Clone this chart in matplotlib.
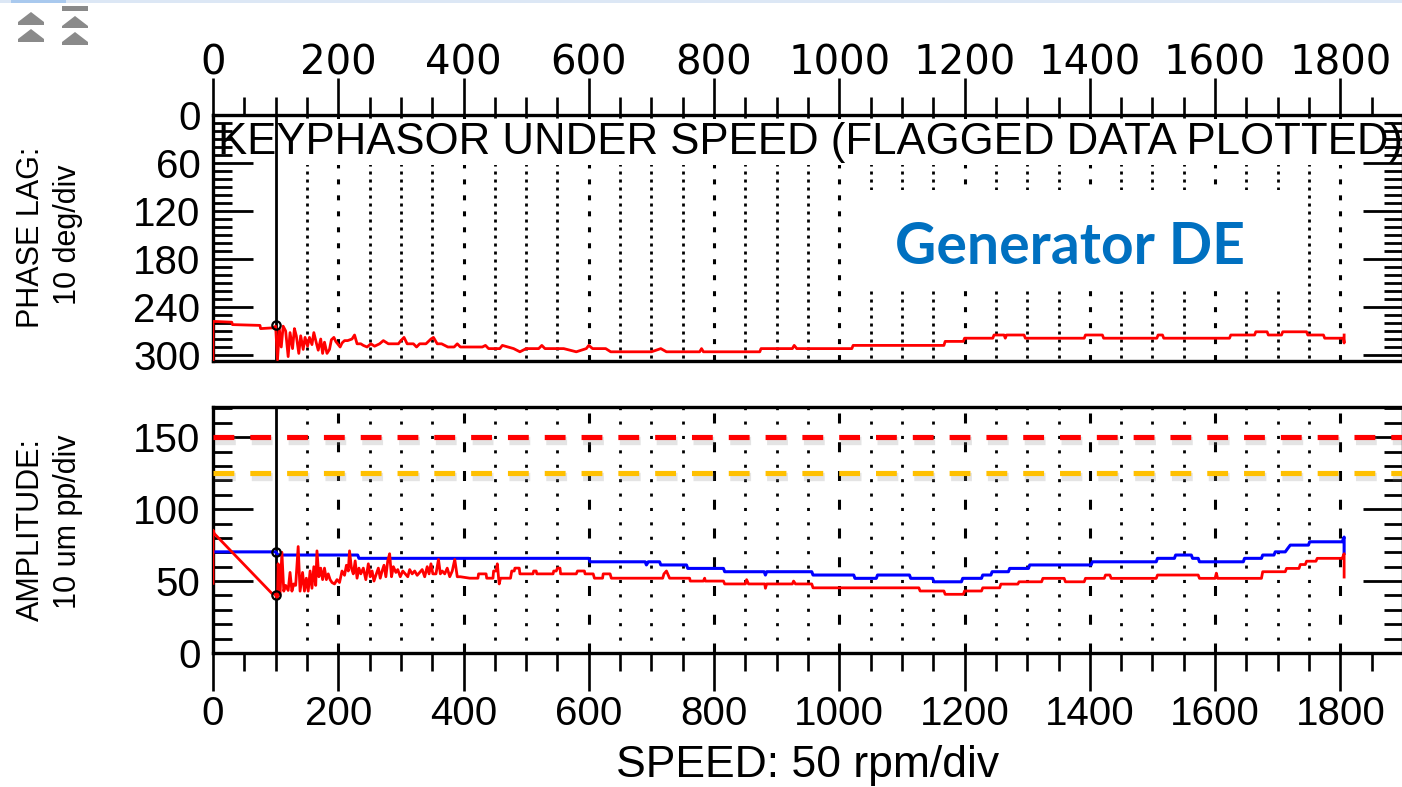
import matplotlib
matplotlib.use('Agg')
import matplotlib.pyplot as plt
import matplotlib.patheffects as pe
from matplotlib.patches import Rectangle, Polygon
from matplotlib.transforms import Affine2D
from matplotlib import font_manager as fm
import numpy as np

plt.rcParams['lines.scale_dashes'] = False

# ---------------- data ----------------
speed_phase = [0, 0, 30, 31, 75, 76, 97,
               100, 103, 106, 109, 112, 116, 120, 123, 127, 130, 133, 137, 140, 144, 147, 151, 154, 158,
               161, 165, 168, 172, 175, 178, 182, 186, 189, 193, 196, 200, 203, 206, 210, 215, 222, 226,
               230, 236, 240, 246, 252, 258, 266, 272, 280, 296, 300, 305, 310, 320, 325, 330, 340, 348,
               352, 358, 365, 375, 385, 390, 395, 430, 435, 440, 458, 462, 480, 490, 500, 520, 525, 530,
               560, 570, 580, 596, 600, 606, 627, 635, 700, 715, 724, 777, 780, 783, 873, 875, 925, 928,
               932, 1020, 1022, 1167, 1169, 1198, 1200, 1245, 1247, 1263, 1265, 1267, 1295, 1297, 1391,
               1393, 1420, 1422, 1507, 1509, 1516, 1518, 1623, 1625, 1663, 1665, 1683, 1685, 1706, 1708,
               1746, 1748, 1773, 1775, 1805, 1806, 1806]
phase_lag = [306, 258, 259, 262, 263, 267, 266,
             264, 306, 268, 290, 264, 270, 302, 272, 292, 267, 276, 298, 276, 293, 278, 289, 278, 287,
             272, 285, 294, 280, 298, 284, 298, 293, 281, 278, 283, 287, 290, 285, 282, 282, 280, 275,
             286, 286, 288, 290, 286, 289, 286, 282, 286, 286, 282, 278, 286, 286, 290, 286, 286, 280,
             278, 286, 286, 290, 290, 286, 290, 290, 288, 292, 292, 288, 292, 296, 292, 292, 288, 292,
             292, 294, 296, 292, 288, 292, 292, 296, 296, 292, 296, 296, 292, 296, 296, 292, 292, 288,
             292, 292, 288, 288, 283, 283, 279, 279, 275, 275, 279, 275, 275, 279, 279,
             275, 275, 279, 279, 275, 275, 279, 279, 275, 275, 271, 271, 275, 275, 271,
             271, 275, 275, 279, 279, 285, 275]

speed_amp_1x = [0, 100, 104, 231, 233, 600, 602, 690, 692, 695, 713, 715, 756, 758, 815, 817, 880,
                882, 884, 956, 958, 1023, 1025, 1059, 1061, 1112, 1114, 1149, 1151, 1195, 1197, 1227,
                1229, 1242, 1244, 1270, 1272, 1302, 1304, 1402, 1404, 1506, 1508, 1535, 1537, 1562,
                1564, 1573, 1575, 1645, 1647, 1674, 1676, 1694, 1696, 1712, 1716, 1720, 1749, 1751,
                1803, 1806, 1806]
amp_1x = [70.3, 70.3, 68.1, 68.1, 65.8, 65.8, 63.4, 63.4, 61.2, 63.4, 63.4, 61.2, 61.2, 58.8, 58.8,
          56.5, 56.5, 54.2, 56.5, 56.5, 54.2, 54.2, 51.9, 51.9, 54.2, 54.2, 51.9, 51.9, 49.5, 49.5,
          51.9, 51.9, 54.2, 54.2, 56.5, 56.5, 58.8, 58.8, 61.2, 61.2, 63.4, 63.4, 65.8, 65.8, 68.1,
          68.1, 65.8, 65.8, 63.4, 63.4, 65.8, 65.8, 68.1, 68.1, 70.3, 70.3, 72.7, 75.0, 75.0, 77.3,
          77.3, 80.6, 69.4]

speed_amp_direct = [0, 0, 2, 94, 98,
                    103, 104, 107, 110, 113, 116, 120, 123, 126, 129, 132, 136, 139, 143, 146, 149, 152,
                    155, 158, 161, 164, 166, 169, 172, 175, 178, 181, 184, 187, 190, 194, 198, 202, 206,
                    210, 213, 216, 218, 221, 224, 227, 230, 233, 236, 240, 244, 248, 251, 254, 257, 260,
                    264, 267, 270, 273, 276, 279, 282, 285, 288, 292, 295, 299, 303, 307, 311, 314, 318,
                    322, 326, 330, 334, 338, 342, 345, 348, 351, 356, 360, 363, 366, 370, 374, 378, 382,
                    386, 390, 395, 410, 423, 424, 436, 437, 447, 448, 452, 454, 456, 457, 459, 475, 477,
                    481, 482, 489, 490, 511, 512, 516, 517, 543, 544, 548, 550, 554, 555, 580, 582, 593,
                    594, 607, 609, 622, 623, 634, 636, 718, 720, 724, 729, 761, 762, 783, 785, 786, 815,
                    817, 850, 852, 855, 881, 882, 884, 925, 927, 930, 956, 958, 1127, 1129, 1167, 1169,
                    1198, 1200, 1227, 1229, 1256, 1258, 1285, 1287, 1323, 1325, 1359, 1361, 1391, 1393,
                    1423, 1425, 1432, 1434, 1506, 1508, 1573, 1575, 1600, 1602, 1604, 1674, 1676, 1712,
                    1714, 1734, 1736, 1744, 1746, 1761, 1763, 1803, 1806, 1806]
amp_direct = [48.4, 85.4, 83.0, 41.4, 41.4,
              38, 62, 40.5, 70, 43, 47, 43.5, 56, 43, 48, 47, 74, 43, 56, 43, 52, 43,
              57, 45, 60, 47, 71, 53, 59, 51, 59, 51, 55, 51, 49, 48, 51, 49, 57,
              54, 61, 57, 71, 59, 55, 64, 52, 59, 55, 59, 51, 62, 53, 57, 50, 54,
              59, 52, 57, 61, 53, 64, 69, 53, 60, 56, 58, 53, 57, 55, 53, 58, 55,
              57, 54, 56, 58, 53, 60, 55, 62, 55, 55, 65, 55, 57, 55, 59, 53, 57,
              65, 53, 53, 52, 52, 55, 55, 52, 52, 57, 57, 62, 52, 48, 52, 52, 57,
              57, 59, 59, 55, 55, 57, 57, 55, 55, 57, 57, 59, 59, 55, 55, 57, 57,
              55, 55, 52, 52, 55, 55, 52, 52, 55, 57, 52, 52, 50, 50, 52, 50, 50,
              48, 48, 51, 48, 48, 45, 48, 48, 50, 48, 48, 45.3, 45.3, 43.1, 43.1, 40.8,
              40.8, 43.1, 43.1, 45.3, 45.3, 47.9, 47.9, 49.5, 49.5, 51.9, 51.9, 49.5, 49.5, 51.9,
              51.9, 54.2, 54.2, 51.9, 51.9, 54.2, 54.2, 51.9, 51.9, 55.5, 51.9, 51.9, 56.5, 56.5,
              58.8, 58.8, 61.5, 61.5, 63.8, 63.8, 65.8, 65.8, 69.0, 52.8]

cursor_speed = 100
cursor_phase = [262]
cursor_amp = [70.4, 40]
alarm_levels = [150, 125]
alarm_colors = ['#FF0000', '#FFC000']

speed_ticks = [0, 200, 400, 600, 800, 1000, 1200, 1400, 1600, 1800]
phase_ticks = [0, 60, 120, 180, 240, 300]
amp_ticks = [0, 50, 100, 150]
title_text = 'KEYPHASOR UNDER SPEED (FLAGGED DATA PLOTTED)'
annot_text = 'Generator DE'

# ---------------- figure ----------------
W, H = 1402, 787
fig = plt.figure(figsize=(W / 100, H / 100), dpi=100)
fig.patch.set_facecolor('white')

SANS = 'Liberation Sans'


def px_axes(l, t, r, b):
    return fig.add_axes([l / W, 1 - b / H, (r - l) / W, (b - t) / H])


ax1 = px_axes(213, 115, 1403, 361)
ax2 = px_axes(213, 407, 1403, 653)

ax1.set_ylim(307.5, 0)
ax2.set_ylim(0, 171)

minor_x = np.arange(0, 1901, 50)
# grid only inside the data span (no grid at 50 and 1850 rpm)
grid_minor = [x for x in minor_x if x % 200 != 0 and 100 < x < 1800]
grid_major = [x for x in speed_ticks if x != 0]

for ax, yt, ystep in ((ax1, phase_ticks, 10), (ax2, amp_ticks, 10)):
    ax.set_xlim(0, 1900)
    ax.set_xticks(speed_ticks)
    ax.set_xticks(minor_x, minor=True)
    ax.set_yticks(yt)
    lo, hi = sorted(ax.get_ylim())
    ax.set_yticks(np.arange(0, hi + 0.01, ystep), minor=True)
    for s in ax.spines.values():
        s.set_linewidth(2.4)
    ax.set_axisbelow(False)
    ax.tick_params(axis='y', which='both', direction='in', left=True, right=True,
                   width=2.0, pad=9, labelsize=29)
    ax.tick_params(axis='y', which='major', length=29)
    ax.tick_params(axis='y', which='minor', length=13.5)
    ax.tick_params(axis='x', which='both', direction='out', width=1.9, labelsize=29)
    ax.tick_params(axis='x', which='major', length=27)
    ax.tick_params(axis='x', which='minor', length=13)
    for lab in ax.get_xticklabels() + ax.get_yticklabels():
        lab.set_fontfamily(SANS)
    ax.axvline(cursor_speed, color='black', lw=2.0, zorder=3)

ax1.tick_params(axis='x', which='both', top=True, bottom=False, labeltop=True, labelbottom=False, pad=-4)
ax2.tick_params(axis='x', which='both', top=False, bottom=True, labeltop=False, labelbottom=True, pad=3)

# grid: dots at every 50 rpm, dashes at every 200 rpm
ax1.vlines(grid_minor, 0, 307.5, colors='black', lw=2.0, linestyles=[(0, (2.2, 3.56))], zorder=1)
ax1.vlines(grid_major, 0, 307.5, colors='black', lw=2.2, linestyles=[(0, (3.6, 7.9))], zorder=1)
ax2.vlines(grid_minor, 0, 171, colors='black', lw=2.0, linestyles=[(1.1, (2.2, 8.17))], zorder=1)
ax2.vlines(grid_major, 0, 171, colors='black', lw=2.2, linestyles=[(0, (7.2, 13.5))], zorder=1)

# data
ax1.plot(speed_phase, phase_lag, color='#FF0000', lw=2.0, zorder=4)
ax2.plot(speed_amp_1x, amp_1x, color='#0000FF', lw=2.2, zorder=4)
ax2.plot(speed_amp_direct, amp_direct, color='#FF0000', lw=2.0, zorder=5)
ax1.plot([cursor_speed] * len(cursor_phase), cursor_phase, 'o', ms=6, mfc='none', mec='black', mew=1.6, zorder=6)
ax2.plot([cursor_speed] * len(cursor_amp), cursor_amp, 'o', ms=6, mfc='none', mec='black', mew=1.6, zorder=6)

# alarm lines
for lvl, col in zip(alarm_levels, alarm_colors):
    ax2.axhline(lvl, color=col, lw=3.7, linestyle=(0, (15, 11.5)), zorder=7,
                path_effects=[pe.SimpleLineShadow(offset=(1.5, -2.5), shadow_color='#888888', alpha=0.22,
                                                  linewidth=6),
                              pe.Normal()])

# title inside top axes
ax1.text(0.004, 0.89, title_text, transform=ax1.transAxes, ha='left', va='center',
         fontsize=31.5, family=SANS, color='black', zorder=2.2,
         bbox=dict(boxstyle='square,pad=0.05', fc='white', ec='none'))

# annotation box "Generator DE"
pix = Affine2D().scale(1 / W, -1 / H).translate(0, 1) + fig.transFigure
fig.add_artist(Rectangle((845, 190), 458, 100, transform=pix, fc='white', ec='none', zorder=1))
fig.text(1070 / W, 1 - 264 / H, annot_text, ha='center', va='baseline', fontsize=41,
         fontweight='bold', family='Lato', color='#0070C0', zorder=2)

# axis labels
fig.text(808 / W, 1 - 765 / H, 'SPEED: 50 rpm/div', ha='center', va='center', fontsize=32, family=SANS)
fig.text(31 / W, 1 - 237 / H, 'PHASE LAG:', rotation=90, ha='center', va='center', fontsize=22, family=SANS)
fig.text(68 / W, 1 - 235 / H, '10 deg/div', rotation=90, ha='center', va='center', fontsize=22, family=SANS)
fig.text(31 / W, 1 - 530 / H, 'AMPLITUDE:', rotation=90, ha='center', va='center', fontsize=22, family=SANS)
fig.text(68 / W, 1 - 522 / H, '10 um pp/div', rotation=90, ha='center', va='center', fontsize=22, family=SANS)

# window chrome: top strip and scroll icons
fig.add_artist(Rectangle((0, 0), W, 3, transform=pix, fc='#DCE7F5', ec='none'))
fig.add_artist(Rectangle((11, 0), 55, 3, transform=pix, fc='#A9C9EE', ec='none'))
gray = '#8A8A8A'
icon_shapes = [
    [(31, 12), (44, 22), (44, 25), (18, 25), (18, 22)],
    [(31, 29), (44, 39), (44, 42), (18, 42), (18, 39)],
    [(62, 6), (88, 6), (88, 11), (62, 11)],
    [(75, 16), (88, 26), (88, 28), (62, 28), (62, 26)],
    [(75, 32), (88, 42), (88, 45), (62, 45), (62, 42)],
]
for shp in icon_shapes:
    fig.add_artist(Polygon(shp, closed=True, transform=pix, fc=gray, ec='none'))

fig.savefig('out.png', dpi=100, facecolor='white')
